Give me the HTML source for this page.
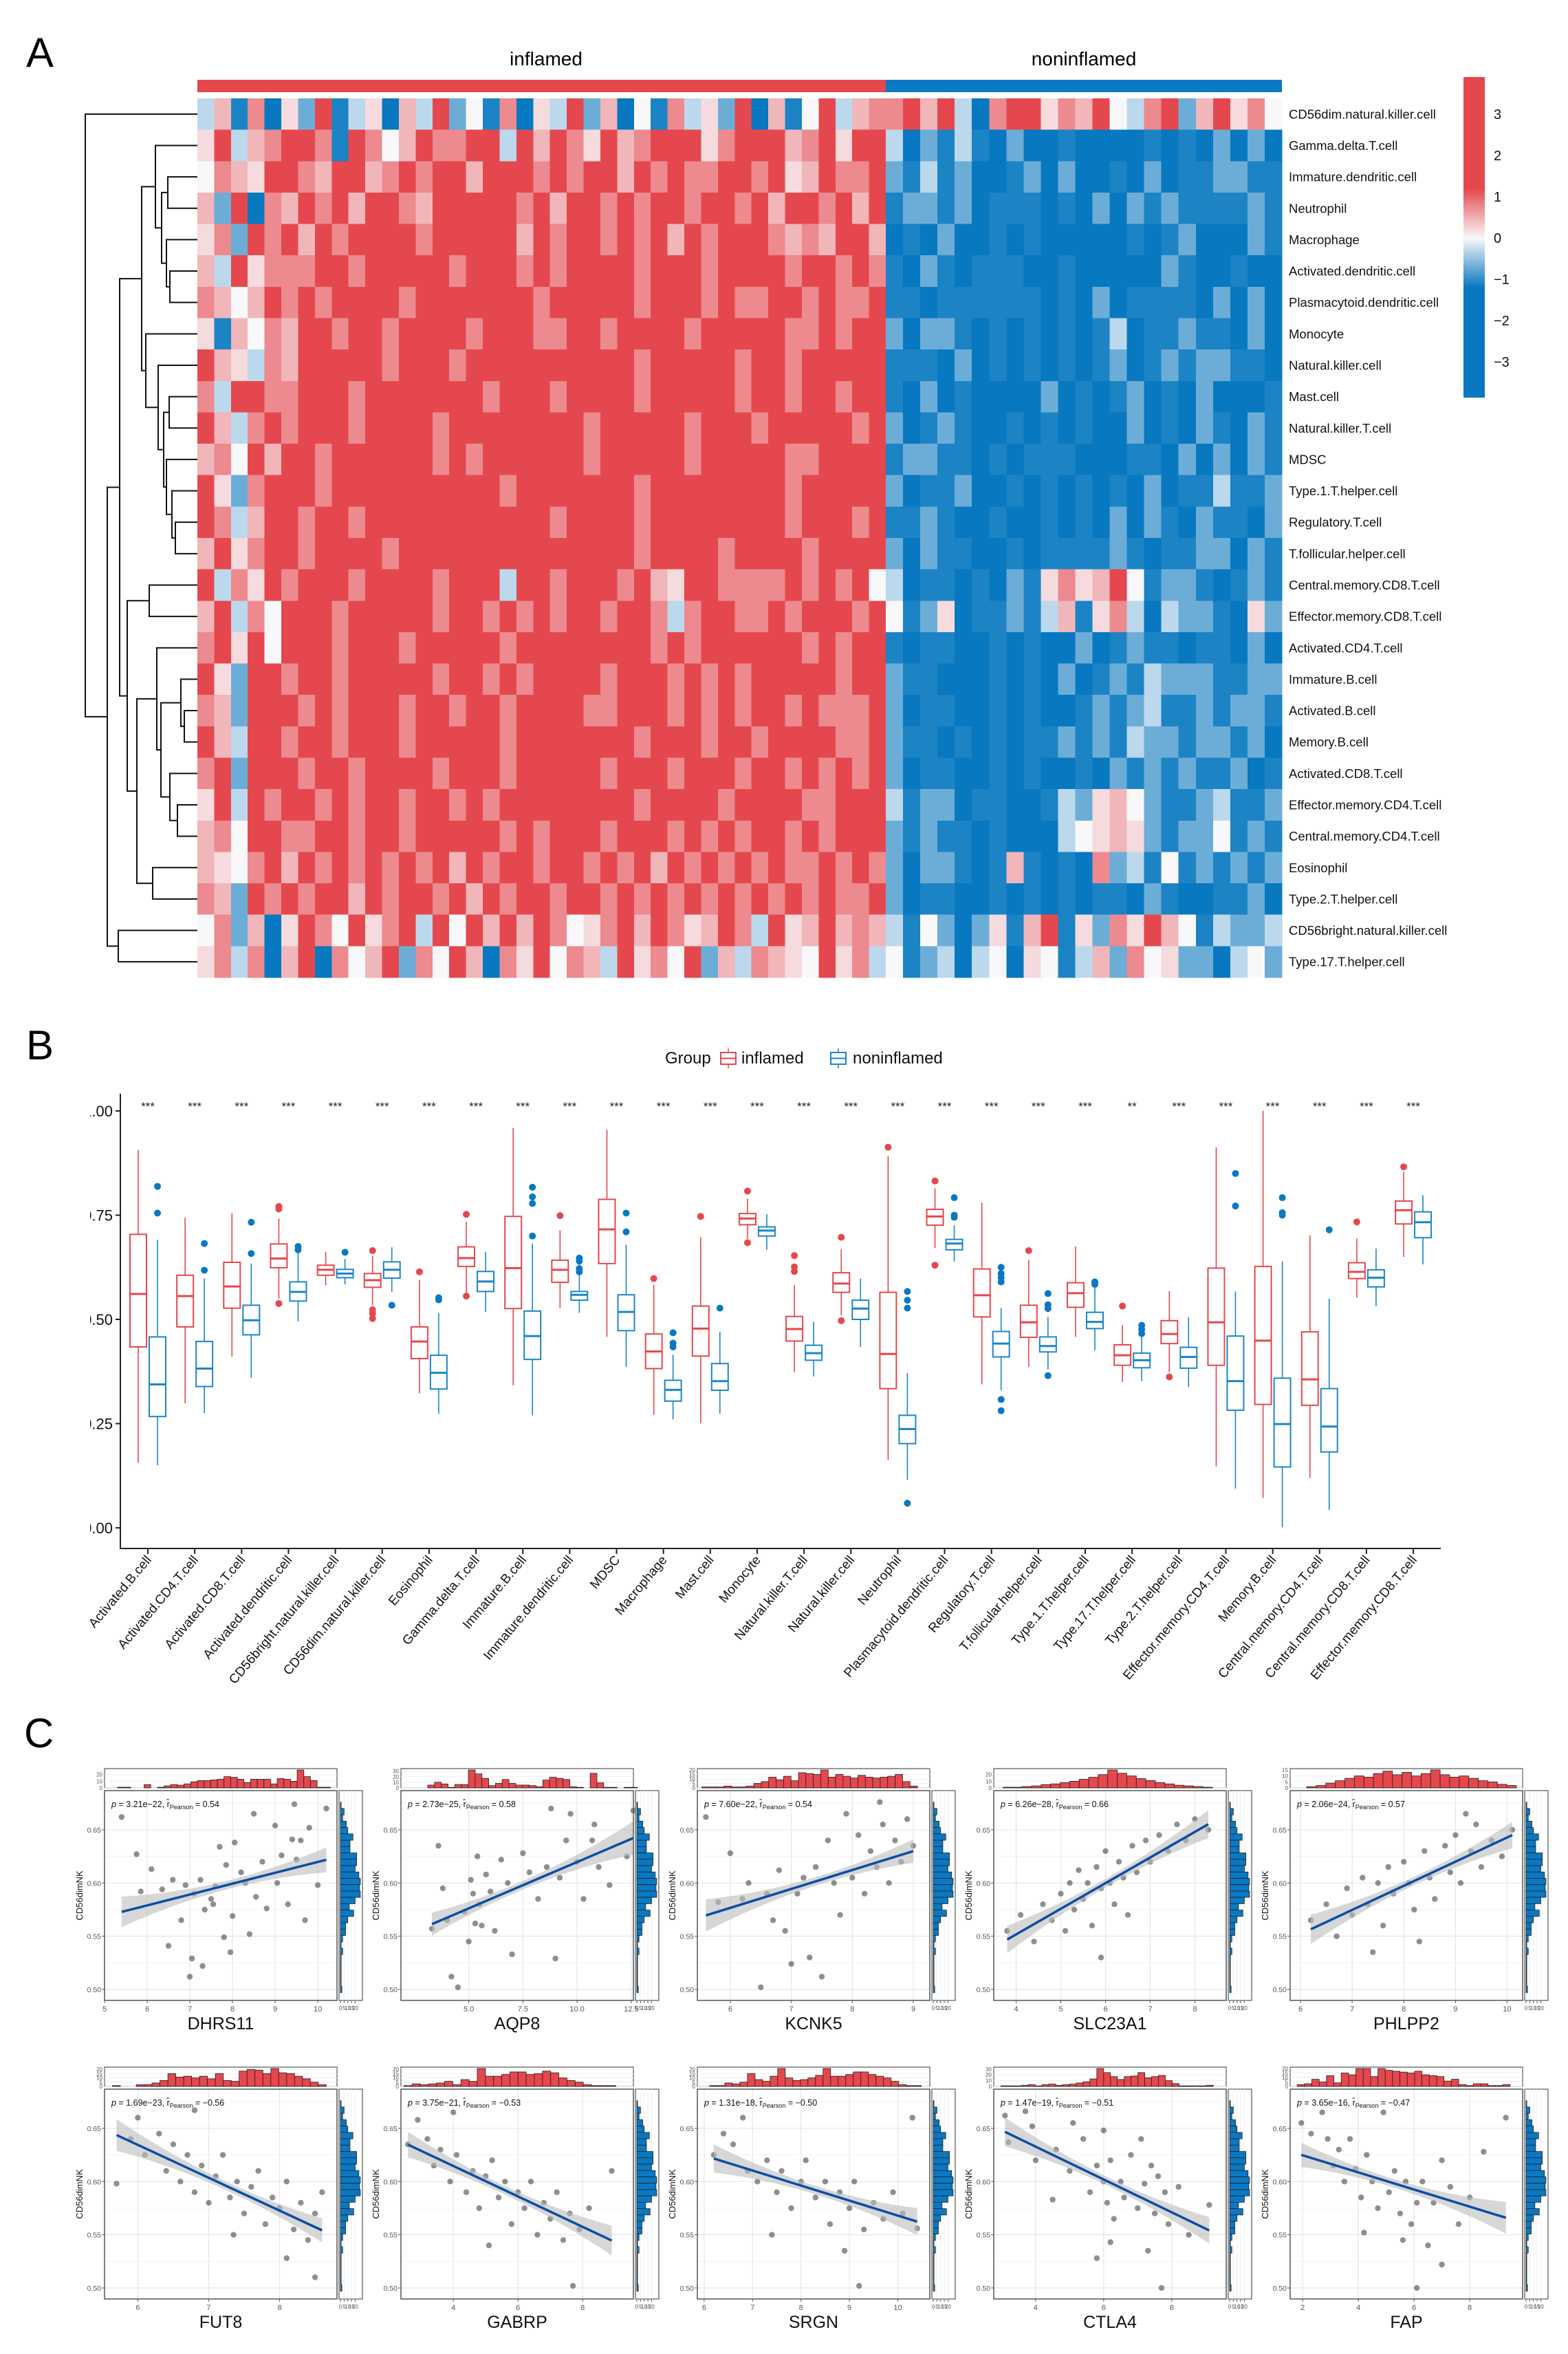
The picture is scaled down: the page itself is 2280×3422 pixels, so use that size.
<!DOCTYPE html>
<html><head><meta charset="utf-8"><title>Immune infiltration figure</title>
<style>
html,body{margin:0;padding:0;background:#fff;}
svg{display:block;font-family:"Liberation Sans",Arial,sans-serif;}
</style></head>
<body>
<svg id="fig" xmlns="http://www.w3.org/2000/svg" width="2280" height="3422" viewBox="0 0 2280 3422">
<rect x="0" y="0" width="2280" height="3422" fill="#fff"/>
<text x="38" y="97" font-size="60">A</text>
<text x="38" y="1540" font-size="60">B</text>
<text x="35" y="2540" font-size="60">C</text>
<text x="794" y="95" font-size="28" text-anchor="middle">inflamed</text>
<text x="1576" y="95" font-size="28" text-anchor="middle">noninflamed</text>
<g id="gA"></g>
<g id="gB"></g>
<g id="gC"></g>
</svg>
<script>
// ---------- Panel A data ----------
const rowNames=["CD56dim.natural.killer.cell","Gamma.delta.T.cell","Immature.dendritic.cell","Neutrophil","Macrophage","Activated.dendritic.cell","Plasmacytoid.dendritic.cell","Monocyte","Natural.killer.cell","Mast.cell","Natural.killer.T.cell","MDSC","Type.1.T.helper.cell","Regulatory.T.cell","T.follicular.helper.cell","Central.memory.CD8.T.cell","Effector.memory.CD8.T.cell","Activated.CD4.T.cell","Immature.B.cell","Activated.B.cell","Memory.B.cell","Activated.CD8.T.cell","Effector.memory.CD4.T.cell","Central.memory.CD4.T.cell","Eosinophil","Type.2.T.helper.cell","CD56bright.natural.killer.cell","Type.17.T.helper.cell"];
const heatRows=[
"36170528135063824170538260417352806148367|78683078857684378268574",
"58367887187468778838687586788857888678588|30213102001000010102020",
"47658876886787886888787886878778878568778|21312001202001020112211",
"62807687868876888887868878788788786887868|12212011101020212111121",
"57287868788887888886878878786878887676886|01020010100000101200021",
"63857778878888878887878888788878888788787|10210111001000002100100",
"76468787888878888888788888788878778878778|11011111101020111102020",
"51647688788788887888778878888788888778788|20221010101013011211020",
"86537688888788878888888888788888788788888|11102010101012012122110",
"73887788878888888788878888788888788788788|10201000020101201020001",
"86378788878888788888888788888788878888878|20121001010100201021021",
"67486887888888787888888788888788888778888|12211010111000110202021",
"85278887888888888878888888788888888788888|20112001010101020113112",
"87368878878888888888878888788888888788878|11210010010102021021102",
"68578878888788888888888888788887888878888|20211001011112101122021",
"83758788878888788838878887865887777878784|30110102157568412210121",
"68374888788888788787878878873788778788878|41250112136157303221052",
"78584888788878888878888888878788888878788|10110010100201211011020",
"85288788788888788787888878887878788888788|21100010102012132221122",
"76288878788878878878888778887878788787778|20110010100121231121221",
"86388788788878888878888888788878878888778|21101010112121322122120",
"78288878878888788878888878887888788787878|20110010100102121211201",
"58387887878878878788888888788887888877888|31220110013256421123112",
"67488778878878888878788878887878788787888|21211010003456521224121",
"65478687878787868788788787868787878778787|20221016101072314121212",
"76287878868788786878878878787878787878778|20110010101011021001120",
"47260587485783848686874578687568738568676|31420251681527586413223",
"57370680746827486075847638574826376548573|41230340541362745220342"];
const colorTicks=[3,2,1,0,-1,-2,-3];
const digitValues=[-1.2,-1.1,-0.7,-0.3,0,0.2,0.45,0.75,1.2];
// dendrogram: [height-x, left, right]; leaves are row indices
const dendro=[124,0,[156,[174,[206,[226,1,[235,[244,2,3],[242,4,[247,5,6]]]],[212,7,[230,8,[238,[246,9,10],[242,11,[250,12,[255,13,14]]]]]]],[185,[217,15,16],[199,[228,17,[234,[263,18,[268,19,20]],[247,21,[258,22,23]]]],[222,24,25]]]],[172,26,27]]];

// ---------- Panel B data ----------
const catNames=["Activated.B.cell","Activated.CD4.T.cell","Activated.CD8.T.cell","Activated.dendritic.cell","CD56bright.natural.killer.cell","CD56dim.natural.killer.cell","Eosinophil","Gamma.delta.T.cell","Immature.B.cell","Immature.dendritic.cell","MDSC","Macrophage","Mast.cell","Monocyte","Natural.killer.T.cell","Natural.killer.cell","Neutrophil","Plasmacytoid.dendritic.cell","Regulatory.T.cell","T.follicular.helper.cell","Type.1.T.helper.cell","Type.17.T.helper.cell","Type.2.T.helper.cell","Effector.memory.CD4.T.cell","Memory.B.cell","Central.memory.CD4.T.cell","Central.memory.CD8.T.cell","Effector.memory.CD8.T.cell"];
const sigStars=["***","***","***","***","***","***","***","***","***","***","***","***","***","***","***","***","***","***","***","***","***","**","***","***","***","***","***","***"];
const yTicksB=[0,0.25,0.5,0.75,1.0];
const redLow=[.156,.299,.411,.55,.582,.534,.323,.558,.342,.527,.458,.271,.251,.694,.374,.51,.163,.671,.344,.386,.458,.35,.374,.147,.072,.12,.552,.65];
const redQ1=[.434,.482,.527,.624,.606,.577,.406,.627,.526,.589,.634,.382,.412,.727,.448,.565,.334,.726,.506,.457,.529,.39,.442,.39,.296,.294,.598,.729];
const redMed=[.561,.556,.579,.646,.619,.594,.447,.647,.623,.619,.716,.423,.478,.742,.477,.586,.417,.747,.558,.493,.563,.414,.465,.493,.449,.356,.614,.762];
const redQ3=[.704,.606,.637,.681,.63,.61,.482,.674,.747,.642,.788,.465,.532,.754,.507,.612,.565,.764,.621,.534,.588,.439,.497,.623,.627,.47,.636,.784];
const redHigh=[.906,.744,.755,.742,.662,.652,.595,.734,.959,.714,.955,.583,.697,.79,.582,.668,.892,.815,.78,.643,.675,.486,.568,.913,1.0,.702,.694,.854];
const redOut=[[3,.771],[3,.765],[3,.538],[5,.665],[5,.523],[5,.514],[5,.502],[6,.614],[7,.752],[7,.556],[9,.749],[11,.598],[12,.747],[13,.808],[13,.684],[14,.653],[14,.626],[14,.615],[15,.697],[15,.497],[16,.913],[17,.832],[17,.63],[19,.665],[21,.532],[22,.362],[26,.734],[27,.866]];
const blueLow=[.15,.275,.36,.495,.584,.566,.274,.518,.27,.516,.386,.26,.274,.667,.363,.434,.115,.639,.33,.38,.426,.352,.338,.094,.001,.043,.532,.632];
const blueQ1=[.267,.339,.463,.544,.6,.599,.333,.567,.404,.546,.473,.304,.33,.70,.402,.50,.202,.667,.41,.422,.478,.384,.383,.282,.146,.182,.578,.696];
const blueMed=[.344,.382,.498,.566,.61,.619,.372,.591,.46,.559,.518,.331,.352,.713,.419,.526,.237,.682,.442,.436,.494,.402,.41,.352,.249,.243,.60,.733];
const blueQ3=[.458,.447,.534,.59,.62,.638,.414,.615,.52,.567,.559,.354,.394,.722,.438,.546,.27,.692,.471,.458,.517,.419,.433,.46,.359,.334,.619,.758];
const blueHigh=[.691,.598,.634,.662,.645,.673,.515,.662,.682,.646,.679,.415,.47,.752,.494,.598,.371,.726,.527,.506,.582,.465,.505,.567,.639,.55,.67,.798];
const blueOut=[[0,.819],[0,.755],[1,.682],[1,.618],[2,.733],[2,.658],[3,.675],[3,.667],[4,.661],[5,.534],[6,.547],[6,.552],[8,.817],[8,.794],[8,.778],[8,.70],[9,.647],[9,.64],[9,.622],[9,.614],[10,.755],[10,.71],[11,.468],[11,.443],[11,.434],[12,.527],[16,.567],[16,.546],[16,.527],[16,.059],[17,.792],[17,.75],[17,.745],[18,.625],[18,.61],[18,.60],[18,.59],[18,.308],[18,.281],[19,.562],[19,.535],[19,.526],[19,.365],[20,.59],[20,.584],[21,.486],[21,.476],[21,.466],[23,.85],[23,.772],[24,.792],[24,.756],[24,.75],[25,.715]];

// ---------- Panel C data ----------
const genes=["DHRS11","AQP8","KCNK5","SLC23A1","PHLPP2","FUT8","GABRP","SRGN","CTLA4","FAP"];
const pVals=["3.21e\u221222","2.73e\u221225","7.60e\u221222","6.26e\u221228","2.06e\u221224","1.69e\u221223","3.75e\u221221","1.31e\u221218","1.47e\u221219","3.65e\u221216"];
const rVals=["0.54","0.58","0.54","0.66","0.57","\u22120.56","\u22120.53","\u22120.50","\u22120.51","\u22120.47"];
const xDomains=[[5,10.45],[1.87,12.6],[5.46,9.27],[3.5,8.7],[5.8,10.3],[5.53,8.81],[2.38,9.57],[5.86,10.66],[2.77,9.6],[1.55,9.9]];
const xTicksC=[[5,6,7,8,9,10],[5,7.5,10,12.5],[6,7,8,9],[4,5,6,7,8],[6,7,8,9,10],[6,7,8],[4,6,8],[6,7,8,9,10],[4,6,8],[2,4,6,8]];
const yTicksC=[0.50,0.55,0.60,0.65];
const pts0=[[5.4,.662],[5.75,.627],[5.85,.592],[6.1,.613],[6.35,.594],[6.5,.541],[6.6,.603],[6.8,.565],[6.9,.598],[7.0,.512],[7.05,.529],[7.1,.59],[7.25,.603],[7.3,.522],[7.35,.575],[7.5,.585],[7.55,.58],[7.6,.597],[7.7,.634],[7.8,.549],[7.85,.617],[7.95,.535],[8.0,.569],[8.05,.638],[8.2,.61],[8.3,.6],[8.4,.552],[8.5,.665],[8.55,.587],[8.7,.62],[8.8,.576],[9.0,.654],[9.05,.6],[9.15,.626],[9.3,.58],[9.4,.641],[9.45,.674],[9.5,.622],[9.6,.64],[9.7,.565],[9.8,.652],[10.0,.598],[10.2,.67]];
const pts1=[[3.3,.557],[3.6,.635],[3.8,.595],[4.0,.565],[4.2,.512],[4.5,.502],[4.8,.573],[5.0,.545],[5.1,.603],[5.2,.59],[5.3,.562],[5.4,.625],[5.5,.58],[5.6,.56],[5.8,.608],[6.0,.592],[6.2,.555],[6.5,.622],[6.8,.6],[7.0,.533],[7.5,.628],[7.8,.61],[8.2,.585],[8.6,.615],[8.8,.67],[9.0,.529],[9.2,.605],[9.5,.64],[9.7,.665],[10.0,.62],[10.3,.585],[10.7,.64],[10.8,.655],[11.0,.615],[11.5,.598],[12.3,.625],[12.6,.668]];
const pts2=[[5.6,.662],[5.8,.582],[6.0,.628],[6.2,.585],[6.3,.6],[6.5,.502],[6.6,.59],[6.7,.565],[6.8,.612],[6.9,.555],[7.0,.524],[7.1,.59],[7.2,.605],[7.3,.53],[7.4,.615],[7.5,.512],[7.6,.64],[7.7,.6],[7.8,.57],[7.9,.665],[8.0,.605],[8.1,.645],[8.2,.59],[8.3,.63],[8.4,.615],[8.5,.655],[8.6,.6],[8.7,.64],[8.8,.62],[8.9,.66],[9.0,.635],[8.45,.676]];
const pts3=[[3.8,.555],[4.1,.57],[4.4,.545],[4.6,.58],[4.8,.565],[5.0,.59],[5.1,.555],[5.2,.6],[5.3,.575],[5.4,.612],[5.5,.585],[5.6,.6],[5.7,.56],[5.8,.615],[5.9,.595],[6.0,.63],[6.1,.6],[6.2,.58],[6.3,.62],[6.4,.605],[6.6,.635],[6.7,.61],[6.9,.64],[7.0,.62],[7.2,.645],[7.4,.63],[7.6,.655],[7.8,.64],[8.0,.66],[8.3,.65],[5.9,.53],[6.5,.57]];
const pts4=[[6.2,.565],[6.5,.58],[6.7,.55],[6.9,.595],[7.0,.57],[7.2,.605],[7.3,.58],[7.5,.6],[7.6,.56],[7.7,.615],[7.8,.59],[8.0,.62],[8.1,.6],[8.2,.575],[8.4,.63],[8.5,.605],[8.6,.585],[8.8,.635],[8.9,.61],[9.0,.645],[9.1,.6],[9.3,.63],[9.4,.655],[9.5,.615],[9.7,.64],[9.9,.625],[10.1,.65],[8.3,.545],[7.4,.535],[9.2,.665]];
const pts5=[[5.7,.598],[5.9,.64],[6.0,.66],[6.1,.625],[6.3,.645],[6.4,.61],[6.5,.635],[6.6,.6],[6.7,.625],[6.8,.59],[6.9,.615],[7.0,.58],[7.1,.605],[7.2,.625],[7.3,.585],[7.4,.6],[7.5,.57],[7.6,.595],[7.7,.61],[7.8,.56],[7.9,.585],[8.0,.575],[8.1,.6],[8.2,.555],[8.3,.58],[8.4,.545],[8.5,.57],[8.6,.59],[8.5,.51],[6.8,.667],[7.35,.55],[8.1,.528]];
const pts6=[[2.6,.635],[2.9,.658],[3.2,.64],[3.4,.615],[3.6,.63],[3.9,.6],[4.1,.625],[4.4,.59],[4.6,.61],[4.8,.575],[5.0,.605],[5.2,.62],[5.4,.585],[5.6,.6],[5.8,.56],[6.0,.59],[6.2,.575],[6.4,.6],[6.6,.55],[6.8,.58],[7.0,.565],[7.2,.59],[7.4,.545],[7.6,.57],[7.9,.555],[8.2,.575],[7.7,.502],[8.9,.61],[5.1,.54],[4.0,.665]];
const pts7=[[6.2,.625],[6.4,.645],[6.6,.635],[6.8,.66],[6.9,.61],[7.1,.6],[7.3,.62],[7.5,.59],[7.6,.61],[7.8,.575],[8.0,.6],[8.1,.62],[8.3,.585],[8.5,.6],[8.6,.56],[8.8,.59],[9.0,.575],[9.1,.6],[9.3,.555],[9.5,.58],[9.7,.565],[9.9,.59],[10.1,.57],[7.4,.55],[8.9,.535],[9.2,.502],[10.3,.66],[10.4,.556]];
const pts8=[[3.1,.662],[3.2,.637],[3.7,.666],[3.9,.652],[4.0,.62],[4.5,.583],[4.6,.63],[5.0,.61],[5.1,.655],[5.4,.64],[5.6,.59],[5.8,.615],[6.0,.648],[6.0,.6],[6.1,.58],[6.2,.62],[6.3,.565],[6.5,.6],[6.6,.585],[6.8,.625],[7.0,.575],[7.1,.64],[7.2,.598],[7.3,.535],[7.4,.615],[7.5,.57],[7.6,.605],[7.7,.5],[7.8,.59],[7.9,.56],[8.2,.595],[8.5,.55],[9.1,.578],[6.2,.543],[5.8,.528]];
const pts9=[[1.95,.655],[2.3,.645],[2.7,.665],[2.9,.64],[3.1,.615],[3.3,.63],[3.5,.6],[3.7,.64],[3.9,.612],[4.1,.585],[4.3,.625],[4.5,.6],[4.7,.575],[4.9,.665],[5.1,.59],[5.3,.61],[5.5,.57],[5.7,.6],[5.9,.56],[6.1,.58],[6.1,.5],[6.3,.6],[6.5,.54],[6.7,.58],[7.0,.62],[7.0,.522],[7.3,.595],[7.6,.56],[8.0,.585],[8.5,.628],[9.3,.66],[4.2,.552],[5.6,.545]];
const allPts=[pts0,pts1,pts2,pts3,pts4,pts5,pts6,pts7,pts8,pts9];
const hist0=[1,1,0,0,5,0,1,3,5,4,6,9,11,11,12,13,17,16,13,8,13,13,13,6,14,13,10,27,17,11,1,1];
const hist1=[5,10,7,1,6,6,32,25,17,4,8,15,8,5,5,4,2,14,19,17,15,2,1,0,26,9,1,1,0,1,1];
const hist2=[1,1,1,2,1,1,2,5,7,12,9,13,8,17,16,15,20,12,15,13,11,14,12,11,12,13,15,7,2];
const hist3=[1,1,2,3,5,6,8,10,13,16,20,27,22,18,14,11,8,6,4,3,2,1];
const hist4=[1,2,4,6,8,10,9,12,14,11,13,10,12,15,11,9,10,8,6,5,3,2];
const hist5=[1,0,0,2,2,4,7,15,11,12,10,12,9,15,7,6,18,20,19,15,21,16,15,12,9,5,2];
const hist6=[1,3,2,3,4,6,2,8,6,21,12,12,14,17,17,14,15,18,16,10,7,5,2,1,1,1];
const hist7=[1,1,4,3,5,15,8,6,12,21,10,7,8,10,13,21,12,12,14,17,17,14,12,10,6,2,1,1];
const hist8=[1,1,1,2,3,1,3,4,2,3,4,6,8,13,31,24,17,12,17,18,24,15,17,19,10,5,1,1,1,1,2];
const hist9=[2,3,8,5,12,4,15,13,20,20,11,20,18,17,16,15,17,13,12,11,6,8,2,1,3,3,1,1,2];
const topHists=[hist0,hist1,hist2,hist3,hist4,hist5,hist6,hist7,hist8,hist9];
const histTicks=[[0,10,20],[0,10,20,30],[0,5,10,15,20],[0,10,20],[0,5,10,15],[0,5,10,15,20],[0,5,10,15,20],[0,5,10,15,20],[0,10,20,30],[0,5,10,15,20]];
const yHist=[1,5,3,8,10,17,13,13,22,22,20,25,27,26,27,20,12,18,10,7,7,3,1,3,1,1,1,1,1,2];
const yHistRange=[0.497,0.676];
const yHistTicks=[0,5,10,15,20];

// ---------- helpers ----------
const NS="http://www.w3.org/2000/svg";
function mk(parent,tag,attrs){const e=document.createElementNS(NS,tag);for(const k in attrs)e.setAttribute(k,attrs[k]);parent.appendChild(e);return e;}
function lin(d0,d1,r0,r1){return v=>r0+(v-d0)/(d1-d0)*(r1-r0);}
const BLUE=[8,120,192],WHITE=[248,248,250],RED=[228,72,78];
function heatColor(v){let t=Math.max(-1,Math.min(1,v/1.2));const a=t<0?BLUE:RED;t=Math.abs(t);const c=WHITE.map((w,i)=>Math.round(w+(a[i]-w)*t));return `rgb(${c[0]},${c[1]},${c[2]})`;}

// ---------- Panel A ----------
(function(){
const g=document.getElementById('gA');
const hx0=287,hsplit=1288,hx1=1864,hy0=143,hy1=1421;
const rh=(hy1-hy0)/heatRows.length;
const rowY=i=>hy0+rh*(i+0.5);
let e=mk(g,'rect',{x:hx0,y:116,width:hsplit-hx0,height:18,fill:'#E5474D'});


e=mk(g,'rect',{x:hsplit,y:116,width:hx1-hsplit,height:18,fill:'#0A78C2'});


heatRows.forEach((s,r)=>{
  const parts=s.split('|');
  const spans=[[hx0,hsplit],[hsplit,hx1]];
  parts.forEach((p,k)=>{
    const w=(spans[k][1]-spans[k][0])/p.length;
    for(let c=0;c<p.length;c++){
      const v=digitValues[parseInt(p[c],10)];
      const cell=mk(g,'rect',{x:(spans[k][0]+c*w).toFixed(2),y:(hy0+r*rh).toFixed(2),width:(w+0.6).toFixed(2),height:(rh+0.6).toFixed(2),fill:heatColor(v),'shape-rendering':'crispEdges'});
      
      
    }
  });
  const t=mk(g,'text',{x:1874,y:rowY(r)+6.5,'font-size':18.5,fill:'#111'});
  t.textContent=rowNames[r];
  
  
});
function lay(n){
  if(typeof n==='number')return {x:hx0,y:rowY(n)};
  const l=lay(n[1]),r=lay(n[2]);
  const p=mk(g,'path',{d:`M${l.x},${l.y}H${n[0]}V${r.y}H${r.x}`,fill:'none',stroke:'#111','stroke-width':2});
  
  
  return {x:n[0],y:(l.y+r.y)/2};
}
lay(dendro);
const cy=v=>346-60*v;
const defs=mk(g,'defs',{});
const lg=mk(defs,'linearGradient',{id:'cbar',x1:0,y1:0,x2:0,y2:1});
const top=112,bot=578;
for(let v=3.9;v>=-3.9;v-=0.1){mk(lg,'stop',{offset:((cy(v)-top)/(bot-top)).toFixed(4),'stop-color':heatColor(v)});}
e=mk(g,'rect',{x:2128,y:top,width:31,height:bot-top,fill:'url(#cbar)'});


colorTicks.forEach(v=>{
  const t=mk(g,'text',{x:2172,y:cy(v)+7,'font-size':20,fill:'#111'});
  t.textContent=v<0?'\u2212'+Math.abs(v):String(v);
  
  
});
})();

// ---------- Panel B ----------
(function(){
const g=document.getElementById('gB');
const yv=lin(0,1,2221,1615);
const xc=i=>215+68.15*i;
const R='#E5474D',B='#1B86C8';
let t=mk(g,'text',{x:967,y:1546,'font-size':24,fill:'#111'});t.textContent='Group';


[[1048,R,'inflamed',1078],[1208,B,'noninflamed',1240]].forEach(([x,c,lab,tx])=>{
  const ic=mk(g,'g',{});
  
  
  mk(ic,'line',{x1:x+11,y1:1524,x2:x+11,y2:1553,stroke:c,'stroke-width':1.5});
  mk(ic,'rect',{x:x,y:1530,width:22,height:17,fill:'#fff',stroke:c,'stroke-width':2});
  mk(ic,'line',{x1:x,y1:1538.5,x2:x+22,y2:1538.5,stroke:c,'stroke-width':2});
  const tt=mk(ic,'text',{x:tx,y:1546,'font-size':24,fill:'#111'});tt.textContent=lab;
});
let e=mk(g,'line',{x1:175,y1:1590,x2:175,y2:2251,stroke:'#222','stroke-width':2});


e=mk(g,'line',{x1:174,y1:2251,x2:2095,y2:2251,stroke:'#222','stroke-width':2});


const defs=mk(g,'defs',{});
const cp=mk(defs,'clipPath',{id:'yclip'});mk(cp,'rect',{x:131,y:1500,width:100,height:800});
const yl=mk(g,'g',{'clip-path':'url(#yclip)'});
yTicksB.forEach(v=>{
  mk(g,'line',{x1:168,y1:yv(v),x2:175,y2:yv(v),stroke:'#222','stroke-width':2});
  const tt=mk(yl,'text',{x:164,y:yv(v)+8,'font-size':22,'text-anchor':'end',fill:'#111'});
  tt.textContent=v.toFixed(2);
  
  
});
function box(i,off,c,lo,q1,md,q3,hi,name){
  const x=xc(i)+off,w=24;
  const bg=mk(g,'g',{});
  
  
  mk(bg,'line',{x1:x,y1:yv(hi),x2:x,y2:yv(q3),stroke:c,'stroke-width':1.6});
  mk(bg,'line',{x1:x,y1:yv(q1),x2:x,y2:yv(lo),stroke:c,'stroke-width':1.6});
  mk(bg,'rect',{x:x-w/2,y:yv(q3),width:w,height:yv(q1)-yv(q3),fill:'#fff',stroke:c,'stroke-width':2});
  mk(bg,'line',{x1:x-w/2,y1:yv(md),x2:x+w/2,y2:yv(md),stroke:c,'stroke-width':3});
}
catNames.forEach((n,i)=>{
  box(i,-14,R,redLow[i],redQ1[i],redMed[i],redQ3[i],redHigh[i],'box-inflamed-'+i);
  box(i,14,B,blueLow[i],blueQ1[i],blueMed[i],blueQ3[i],blueHigh[i],'box-noninflamed-'+i);
  mk(g,'line',{x1:xc(i),y1:2251,x2:xc(i),y2:2259,stroke:'#222','stroke-width':2});
  const st=mk(g,'text',{x:xc(i),y:1614,'font-size':17,'text-anchor':'middle',fill:'#222'});
  st.textContent=sigStars[i];
  
  
  const lb=mk(g,'text',{x:xc(i)+6,y:2268,'font-size':19,'text-anchor':'end',fill:'#111',transform:`rotate(-50 ${xc(i)+6} 2268)`});
  lb.textContent=n;
  
  
});
redOut.forEach(([i,v])=>{const o=mk(g,'circle',{cx:xc(i)-14,cy:yv(v),r:5,fill:R});
  
  });
blueOut.forEach(([i,v])=>{const o=mk(g,'circle',{cx:xc(i)+14,cy:yv(v),r:5,fill:'#0A78C2'});
  
  });
})();

// ---------- Panel C ----------
(function(){
const g=document.getElementById('gC');
genes.forEach((gene,k)=>{
  const col=k%5,row=Math.floor(k/5);
  const L=152+431*col,T=2603+434*row,W=338,H=305;
  const pg=mk(g,'g',{});
  
  
  const xs=lin(xDomains[k][0],xDomains[k][1],L,L+W);
  const ys=v=>T+289-(v-0.5)*1547;
  yTicksC.forEach(v=>{mk(pg,'line',{x1:L,y1:ys(v),x2:L+W,y2:ys(v),stroke:'#e6e6e6','stroke-width':1.2});
    mk(pg,'line',{x1:L,y1:ys(v+0.025),x2:L+W,y2:ys(v+0.025),stroke:'#f3f3f3','stroke-width':1});});
  xTicksC[k].forEach(v=>{mk(pg,'line',{x1:xs(v),y1:T,x2:xs(v),y2:T+H,stroke:'#e6e6e6','stroke-width':1.2});});
  const P=allPts[k];
  P.forEach(([x,y])=>{const c=mk(pg,'circle',{cx:xs(x).toFixed(1),cy:ys(y).toFixed(1),r:4.2,fill:'#333','fill-opacity':0.55});
    
    });
  const n=P.length,mx=P.reduce((s,p)=>s+p[0],0)/n,my=P.reduce((s,p)=>s+p[1],0)/n;
  let sxy=0,sxx=0;P.forEach(p=>{sxy+=(p[0]-mx)*(p[1]-my);sxx+=(p[0]-mx)**2;});
  const b=sxy/sxx,a=my-b*mx;
  const x0=Math.min(...P.map(p=>p[0])),x1=Math.max(...P.map(p=>p[0]));
  const half=(x1-x0)/2;let up=[],dn=[];
  for(let s=0;s<=20;s++){const x=x0+(x1-x0)*s/20;const hw=0.004+0.009*((x-mx)/half)**2;up.push(`${xs(x).toFixed(1)},${ys(a+b*x+hw).toFixed(1)}`);dn.unshift(`${xs(x).toFixed(1)},${ys(a+b*x-hw).toFixed(1)}`);}
  let e=mk(pg,'polygon',{points:up.concat(dn).join(' '),fill:'#bdbdbd','fill-opacity':0.6});
  
  
  e=mk(pg,'line',{x1:xs(x0),y1:ys(a+b*x0),x2:xs(x1),y2:ys(a+b*x1),stroke:'#0B4EA2','stroke-width':3.5});
  
  
  e=mk(pg,'rect',{x:L,y:T,width:W,height:H,fill:'none',stroke:'#555','stroke-width':1.5});
  
  
  yTicksC.forEach(v=>{mk(pg,'line',{x1:L-4,y1:ys(v),x2:L,y2:ys(v),stroke:'#555'});
    const t=mk(pg,'text',{x:L-5,y:ys(v)+4,'font-size':10.5,'text-anchor':'end',fill:'#555'});t.textContent=v.toFixed(2);
    
    });
  const dec=xTicksC[k].some(v=>v%1!==0);
  xTicksC[k].forEach(v=>{mk(pg,'line',{x1:xs(v),y1:T+H,x2:xs(v),y2:T+H+4,stroke:'#555'});
    const t=mk(pg,'text',{x:xs(v),y:T+H+16,'font-size':11,'text-anchor':'middle',fill:'#555'});t.textContent=dec?v.toFixed(1):String(v);
    
    });
  let t=mk(pg,'text',{x:L+W/2,y:T+H+42,'font-size':25,'text-anchor':'middle',fill:'#111'});t.textContent=gene;
  
  
  t=mk(pg,'text',{x:0,y:0,'font-size':13,'text-anchor':'middle',fill:'#111',transform:`translate(${L-32},${T+H/2}) rotate(-90)`});t.textContent='CD56dimNK';
  
  
  t=mk(pg,'text',{x:L+10,y:T+24,'font-size':12.5,fill:'#111'});
  
  
  t.innerHTML=`<tspan font-style="italic">p</tspan> = ${pVals[k]}, r\u0302<tspan font-size="9" dy="3">Pearson</tspan><tspan dy="-3"> = ${rVals[k]}</tspan>`;
  const hT=T-32,hH=28,h=topHists[k],hmax=Math.max(histTicks[k][histTicks[k].length-1],...h);
  const hy=c=>hT+hH-c/hmax*(hH-2);
  mk(pg,'rect',{x:L,y:hT,width:W,height:hH,fill:'#fff',stroke:'#555','stroke-width':1.2});
  histTicks[k].forEach(v=>{mk(pg,'line',{x1:L,y1:hy(v),x2:L+W,y2:hy(v),stroke:'#eee'});
    const tt=mk(pg,'text',{x:L-3,y:hy(v)+3,'font-size':8,'text-anchor':'end',fill:'#555'});tt.textContent=v;});
  const bx0=xs(x0)-6,bw=(xs(x1)+6-bx0)/h.length;
  h.forEach((c,i)=>{if(!c)return;const r=mk(pg,'rect',{x:bx0+i*bw,y:hy(c),width:bw,height:hT+hH-hy(c),fill:'#E5474D',stroke:'#222','stroke-width':0.8});
    
    });
  const rL=L+341,rW=34;
  mk(pg,'rect',{x:rL,y:T,width:rW,height:H,fill:'#fff',stroke:'#555','stroke-width':1.2});
  const rx=c=>rL+2+c/28*(rW-4);
  yHistTicks.forEach(v=>{mk(pg,'line',{x1:rx(v),y1:T,x2:rx(v),y2:T+H,stroke:'#eee'});
    mk(pg,'line',{x1:rx(v),y1:T+H,x2:rx(v),y2:T+H+4,stroke:'#555'});
    const tt=mk(pg,'text',{x:rx(v),y:T+H+14,'font-size':8,'text-anchor':'middle',fill:'#555'});tt.textContent=v;});
  const bh=(ys(yHistRange[0])-ys(yHistRange[1]))/yHist.length;
  yHist.forEach((c,i)=>{const r=mk(pg,'rect',{x:rL+2,y:ys(yHistRange[1])+i*bh,width:rx(c)-rL-2,height:bh,fill:'#0A78C2',stroke:'#222','stroke-width':0.8});
    
    });
});
})();
</script>
</body></html>
